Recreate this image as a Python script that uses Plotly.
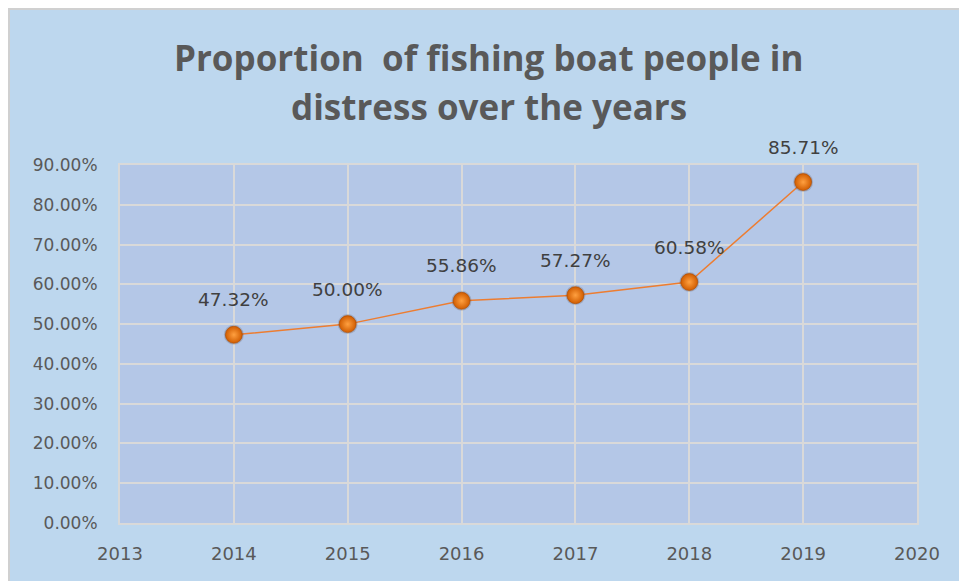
import plotly.graph_objects as go

years = [2014, 2015, 2016, 2017, 2018, 2019]
share = [47.32, 50.00, 55.86, 57.27, 60.58, 85.71]
labels = [f"{v:.2f}%" for v in share]
y_ticks = [0, 10, 20, 30, 40, 50, 60, 70, 80, 90]
y_tick_text = [f"{v:.2f}%" for v in y_ticks]
x_ticks = [2013, 2014, 2015, 2016, 2017, 2018, 2019, 2020]
title_lines = ["Proportion  of fishing boat people in", "distress over the years"]

W, H = 959, 581
L, R, T, B = 120, 42, 165, 58
PW, PH = W - L - R, H - T - B


def py(px):
    """pixel row (from top) -> paper y"""
    return (H - B - px) / PH


fig = go.Figure()

# connecting line
fig.add_trace(go.Scatter(
    x=years, y=share, mode="lines",
    line=dict(color="#ED7D31", width=1.5),
    hoverinfo="skip", showlegend=False,
))
# soft marker shadow
fig.add_trace(go.Scatter(
    x=years, y=share, mode="markers",
    marker=dict(size=20, color="rgba(80,70,70,0.22)", line=dict(width=0)),
    hoverinfo="skip", showlegend=False,
))
# sphere-like markers
fig.add_trace(go.Scatter(
    x=years, y=share, mode="markers",
    marker=dict(size=17, color="#D05C00",
                gradient=dict(type="radial", color="#FFA040"),
                line=dict(width=0.6, color="#A84800")),
    showlegend=False, cliponaxis=False,
))

annotations = []
# value labels above each point
for x, v, t in zip(years, share, labels):
    annotations.append(dict(
        x=x, y=v, xref="x", yref="y", text=t, showarrow=False,
        yshift=35, yanchor="middle", xanchor="center",
        font=dict(family="DejaVu Sans", size=18.5, color="#404040"),
    ))
# two-line title
for line, px in zip(title_lines, [57, 107]):
    annotations.append(dict(
        x=0.5 + (489 - (L + PW / 2)) / PW, y=py(px), xref="paper", yref="paper",
        text=line, showarrow=False, xanchor="center", yanchor="middle",
        font=dict(family="Open Sans", size=35, color="#595959", weight="bold"),
    ))

fig.update_layout(
    width=W, height=H,
    margin=dict(l=L, r=R, t=T, b=B, pad=0),
    paper_bgcolor="white",
    plot_bgcolor="#B4C7E7",
    annotations=annotations,
    shapes=[
        dict(type="rect", xref="paper", yref="paper",
             x0=-(L - 9) / PW, x1=1 + (R + 2) / PW,
             y0=-(B + 2) / PH, y1=1 + (T - 9) / PH,
             fillcolor="#BDD7EE", line=dict(color="#D0D0D0", width=2),
             layer="below"),
        dict(type="rect", xref="paper", yref="paper",
             x0=0, x1=1, y0=0, y1=1,
             fillcolor="#B4C7E7", line=dict(width=0),
             layer="below"),
    ],
    xaxis=dict(
        range=[2013, 2020], tickvals=x_ticks, ticktext=[str(v) for v in x_ticks],
        showgrid=True, gridcolor="#D9D9D9", gridwidth=2,
        showline=True, linecolor="#D9D9D9", linewidth=2, mirror=True,
        zeroline=False, ticks="", ticklabelstandoff=13,
        tickfont=dict(family="DejaVu Sans", size=18, color="#595959"),
    ),
    yaxis=dict(
        range=[0, 90], tickvals=y_ticks, ticktext=y_tick_text,
        showgrid=True, gridcolor="#D9D9D9", gridwidth=2,
        showline=True, linecolor="#D9D9D9", linewidth=2, mirror=True,
        zeroline=False, ticks="", ticklabelstandoff=17,
        tickfont=dict(family="DejaVu Sans", size=17, color="#595959"),
    ),
)

fig.write_html("out.html")
